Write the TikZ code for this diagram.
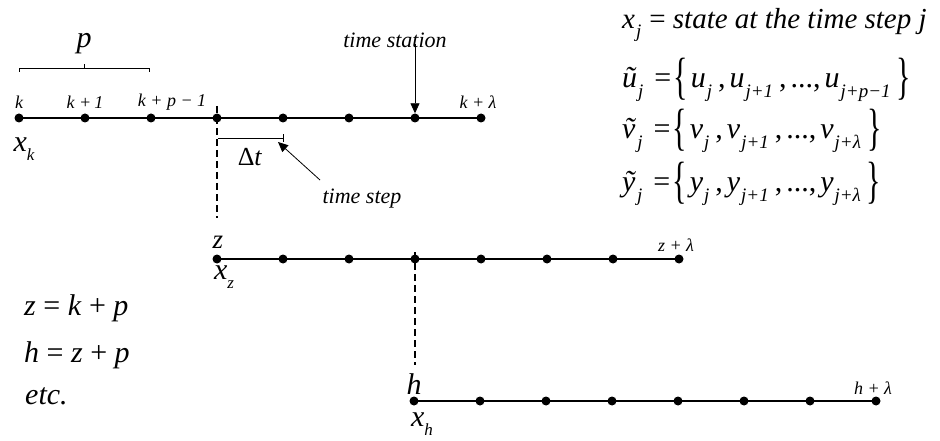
\documentclass[tikz,border=0pt]{standalone}
\usepackage{fontspec}
\setmainfont{Liberation Serif}
\usetikzlibrary{arrows.meta}
\newcommand{\vi}[1]{\textit{#1}}
\newcommand{\sbi}[1]{\raisebox{-0.3em}{\fontsize{17}{18}\selectfont\itshape #1}}
\newcommand{\sbe}[1]{\hspace{1pt}\raisebox{-0.32em}{\fontsize{19}{20}\selectfont\itshape #1}\hspace{6pt}}
\newcommand{\cmm}{,\hspace{4pt}}
\newcommand{\eqq}{\hspace{5pt}=}
\newcommand{\lb}{\hspace{2pt}\raisebox{-0.2em}{\scalebox{1}[1.7]{\{}}\hspace{3pt}}
\newcommand{\rb}{\raisebox{-0.2em}{\scalebox{1}[1.7]{\}}}}
\begin{document}
\begin{tikzpicture}[x=1pt,y=-1pt,
  tl/.style={line width=1.6pt},
  dotn/.style={circle,fill=black,inner sep=0pt,minimum size=9pt},
  sm/.style={font=\fontsize{18}{20}\selectfont\itshape,inner sep=0pt},
  md/.style={font=\fontsize{22}{24}\selectfont\itshape,inner sep=0pt},
  lg/.style={font=\fontsize{30}{34}\selectfont,inner sep=0pt},
  dsh/.style={line width=2pt,dash pattern=on 7pt off 4pt},
  arr/.style={-{Triangle[length=10pt,width=9pt]},line width=0.8pt}]
\useasboundingbox (0,0) rectangle (940,441);
% timeline 1
\foreach \i in {0,...,7} \node[dotn] (a\i) at ({19+66*\i},118) {};
\draw[tl] (a0.center) -- (a7.center);
% timeline 2
\foreach \i in {0,...,7} \node[dotn] (b\i) at ({217+66*\i},259) {};
\draw[tl] (b0.center) -- (b7.center);
% timeline 3
\foreach \i in {0,...,7} \node[dotn] (c\i) at ({414+66*\i},401) {};
\draw[tl] (c0.center) -- (c7.center);
% labels line 1
\node[sm] (lk) at (19,102) {k};
\node[sm] (lk1) at (85,102) {k +\,1};
\node[sm] (lkp) at (172,102) {k + p − 1};
\node[sm] (lkl) at (478,102) {k + λ};
\node[lg] (xk) at (24,149) {\vi{x}\sbi{k}};
% brace p
\coordinate (bl) at (19,72);
\coordinate (br) at (149,72);
\coordinate (bm) at (84,68);
\draw[line width=0.6pt] (bl) -- (bl|-bm) -- (br|-bm) -- (br);
\draw[line width=0.6pt] (bm) -- ++(0,-4);
\node[lg] (p) at (84,44) {\vi{p}};
% dashed 1
\coordinate (d1t) at (217,106);
\coordinate (d1b) at (217,218);
\draw[dsh] (d1t) -- (d1b);
% delta t
\coordinate (dt1) at (218,138);
\coordinate (dt2) at (283,138);
\draw[line width=0.8pt] (dt1) -- (dt2);
\draw[line width=0.8pt] ([yshift=-4pt]dt2) -- ([yshift=4pt]dt2);
\node[font=\fontsize{26}{28}\selectfont,inner sep=0pt] (dtl) at (250,157) {Δ\vi{t}};
% time step
\node[md] (ts) at (362,199) {time step};
\coordinate (tsa) at (320,180);
\coordinate (tsb) at (278,142);
\draw[arr] (tsa) -- (tsb);
% time station
\node[md] (tst) at (395,40) {time station};
\draw[arr] (tst.south -| a6) ++(0,-4) -- (a6.north);
% labels line 2
\node[font=\fontsize{27}{30}\selectfont\itshape,inner sep=0pt] (lz) at (218,242) {z};
\node[sm] (lzl) at (676,245) {z + λ};
\node[lg] (xz) at (224,277) {\vi{x}\sbi{z}};
\coordinate (d2t) at (415,252);
\coordinate (d2b) at (415,365);
\draw[dsh] (d2t) -- (d2b);
% labels line 3
\node[lg] (lh) at (414,384) {\vi{h}};
\node[sm] (lhl) at (873,388) {h + λ};
\node[lg] (xh) at (422,424) {\vi{x}\sbi{h}};
% right equations
\node[lg,anchor=west,font=\fontsize{29}{32}\selectfont] (e1) at (622,25) {\vi{x}\sbe{j}\hspace{2pt}= \vi{state at the time step j}};
\node[lg,anchor=west] (e2) at (622,80) {\vi{\~u}\sbe{j}\eqq\lb\vi{u}\sbe{j}\cmm\vi{u}\sbe{j+1}\cmm...\cmm\vi{u}\sbe{j+p−1}\rb};
\node[lg,anchor=west] (e3) at (622,131) {\vi{\~v}\sbe{j}\eqq\lb\vi{v}\sbe{j}\cmm\vi{v}\sbe{j+1}\cmm...\cmm\vi{v}\sbe{j+λ}\rb};
\node[lg,anchor=west] (e4) at (622,184) {\vi{\~y}\sbe{j}\eqq\lb\vi{y}\sbe{j}\cmm\vi{y}\sbe{j+1}\cmm...\cmm\vi{y}\sbe{j+λ}\rb};
% bottom left
\node[lg,anchor=west] (q1) at (24,308) {\vi{z} = \vi{k} + \vi{p}};
\node[lg,anchor=west] (q2) at (24,355) {\vi{h} = \vi{z} + \vi{p}};
\node[lg,anchor=west] (q3) at (25,396) {\vi{etc.}};
\end{tikzpicture}
\end{document}
